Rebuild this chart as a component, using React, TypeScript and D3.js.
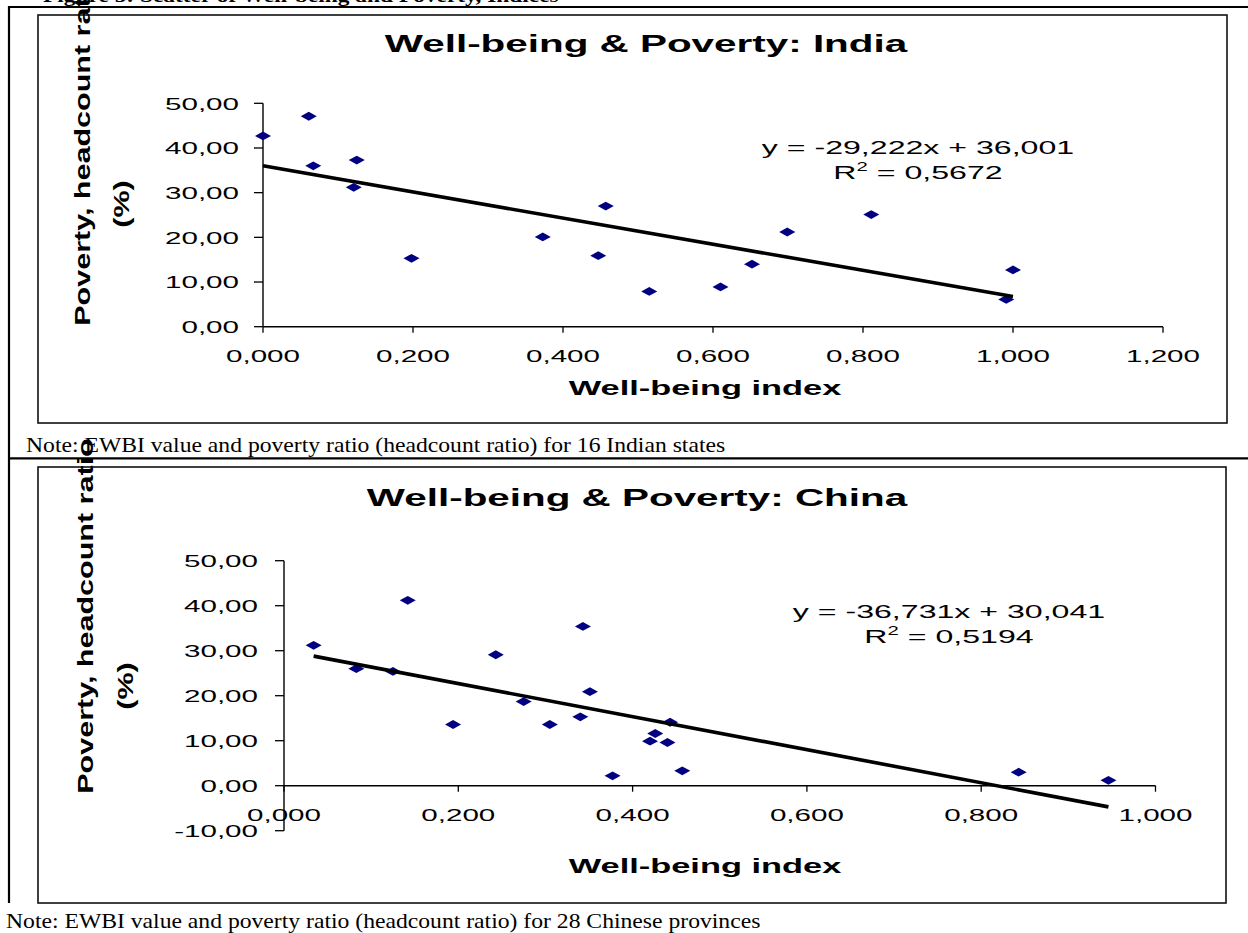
import React from "react";
import * as d3 from "d3";

// Well-being index (EWBI) and poverty headcount ratio (%) per Indian state
const indiaWellBeing = [0, 0.061, 0.067, 0.125, 0.121, 0.198, 0.373, 0.457, 0.447, 0.515, 0.61, 0.652, 0.699, 0.811, 1.0, 0.991];
const indiaPoverty = [42.7, 47.1, 36.0, 37.3, 31.2, 15.3, 20.1, 27.0, 15.9, 7.9, 8.9, 14.0, 21.2, 25.1, 12.7, 6.1];

// Well-being index (EWBI) and poverty headcount ratio (%) per Chinese province
const chinaWellBeing = [0.034, 0.083, 0.125, 0.142, 0.194, 0.243, 0.275, 0.305, 0.343, 0.351, 0.34, 0.377, 0.42, 0.426, 0.44, 0.443, 0.457, 0.843, 0.946];
const chinaPoverty = [31.2, 26.0, 25.4, 41.2, 13.6, 29.1, 18.7, 13.6, 35.4, 20.9, 15.3, 2.2, 9.9, 11.6, 9.6, 14.1, 3.3, 3.0, 1.2];

// Linear trendlines (Excel style)
const indiaFit = { slope: -29.222, intercept: 36.001, r2: 0.5672 };
const chinaFit = { slope: -36.731, intercept: 30.041, r2: 0.5194 };

// Axis ticks
const indiaXTicks = [0, 0.2, 0.4, 0.6, 0.8, 1.0, 1.2];
const indiaYTicks = [0, 10, 20, 30, 40, 50];
const chinaXTicks = [0, 0.2, 0.4, 0.6, 0.8, 1.0];
const chinaYTicks = [-10, 0, 10, 20, 30, 40, 50];

const indiaTitle = "Well-being & Poverty: India";
const chinaTitle = "Well-being & Poverty: China";
const xAxisTitle = "Well-being index";
const yAxisTitleLine1 = "Poverty, headcount ratio";
const yAxisTitleLine2 = "(%)";
const indiaNote = "Note: EWBI value and poverty ratio (headcount ratio) for 16 Indian states";
const chinaNote = "Note: EWBI value and poverty ratio (headcount ratio) for 28 Chinese provinces";
const figureCaption = "Figure 5: Scatter of Well-being and Poverty, Indices";

// Decimal comma formatting
const locale = d3.formatLocale({ decimal: ",", thousands: ".", grouping: [3], currency: ["", ""], minus: "-" });
const fmtY = locale.format(".2f");
const fmtX = locale.format(".3f");
const fmt3 = locale.format(".3f");
const fmt4 = locale.format(".4f");

const SANS = "'Liberation Sans', Arial, Helvetica, sans-serif";
const SERIF = "'Liberation Serif', 'Times New Roman', serif";
const MARKER = "#000080";

// Horizontally widened text, as the chart glyphs are rendered wide
function WText({ x, y, sx = 1.72, size, weight = "normal", anchor = "start", family = SANS, children }: any) {
  return (
    <text
      transform={`translate(${x},${y}) scale(${sx},1)`}
      fontFamily={family}
      fontSize={size}
      fontWeight={weight}
      textAnchor={anchor}
      fill="#000"
    >
      {children}
    </text>
  );
}

// Rotated (vertical) text, centered at cy with baseline at x
function VText({ x, cy, sx = 1.42, size, weight = "bold", children }: any) {
  return (
    <text
      transform={`translate(${x},${cy}) rotate(-90) scale(${sx},1)`}
      fontFamily={SANS}
      fontSize={size}
      fontWeight={weight}
      textAnchor="middle"
      fill="#000"
    >
      {children}
    </text>
  );
}

function Scatter({ xs, ys, fit, title, xDomain, yDomain, xTicks, yTicks, L }: any) {
  const x = d3.scaleLinear().domain(xDomain).range([L.left, L.right]);
  const y = d3.scaleLinear().domain(yDomain).range([L.bottom, L.top]);
  const axisY = y(0);
  const xMin = d3.min(xs) as number;
  const xMax = d3.max(xs) as number;
  const trend = d3.line()([
    [x(xMin), y(fit.intercept + fit.slope * xMin)],
    [x(xMax), y(fit.intercept + fit.slope * xMax)],
  ]) as string;
  const diamond = (cx: number, cy: number) =>
    `M${cx - 8},${cy}L${cx},${cy - 4.4}L${cx + 8},${cy}L${cx},${cy + 4.4}Z`;

  return (
    <g>
      <rect x={L.box.x} y={L.box.y} width={L.box.w} height={L.box.h} fill="none" stroke="#111" strokeWidth={1.6} />
      <WText x={L.titleX} y={L.titleY} size={23.5} weight="bold" anchor="middle">{title}</WText>

      {/* y axis */}
      <line x1={L.left} x2={L.left} y1={y(yDomain[0])} y2={y(yDomain[1])} stroke="#000" strokeWidth={1.4} />
      {yTicks.map((t: number) => (
        <g key={"y" + t}>
          <line x1={L.left - 9} x2={L.left} y1={y(t)} y2={y(t)} stroke="#000" strokeWidth={1.3} />
          <WText x={L.left - L.yLabelGap} y={y(t) + 6.2} size={17.2} anchor="end">{fmtY(t)}</WText>
        </g>
      ))}

      {/* x axis at zero */}
      <line x1={x(xDomain[0])} x2={x(xDomain[1])} y1={axisY} y2={axisY} stroke="#000" strokeWidth={1.4} />
      {xTicks.map((t: number) => (
        <g key={"x" + t}>
          <line x1={x(t)} x2={x(t)} y1={axisY} y2={axisY + 6} stroke="#000" strokeWidth={1.3} />
          <WText x={x(t)} y={axisY + 35} size={17.2} anchor="middle">{fmtX(t)}</WText>
        </g>
      ))}

      {/* data */}
      {xs.map((v: number, i: number) => (
        <path key={"p" + i} d={diamond(x(v), y(ys[i]))} fill={MARKER} />
      ))}
      <path d={trend} fill="none" stroke="#000" strokeWidth={3.6} />

      {/* trendline equation */}
      <WText x={L.eqX} y={L.eqY} size={19} sx={1.69} anchor="middle">
        {`y = ${fmt3(fit.slope)}x + ${fmt3(fit.intercept)}`}
      </WText>
      <WText x={L.eqX} y={L.eqY + 25} size={19} sx={1.69} anchor="middle">
        R<tspan fontSize={12} dy={-8}>2</tspan><tspan dy={8}>{` = ${fmt4(fit.r2)}`}</tspan>
      </WText>

      <WText x={705} y={L.xTitleY} size={20} weight="bold" anchor="middle">{xAxisTitle}</WText>
      <VText x={L.yT1X} cy={L.yT1C} size={21.5}>{yAxisTitleLine1}</VText>
      <VText x={L.yT2X} cy={L.yT2C} size={21.5}>{yAxisTitleLine2}</VText>
    </g>
  );
}

const indiaLayout = {
  box: { x: 38, y: 15, w: 1189, h: 408 },
  left: 263, right: 1163, top: 103.3, bottom: 326.7,
  yLabelGap: 24,
  titleX: 646, titleY: 52,
  eqX: 918, eqY: 154,
  xTitleY: 395,
  yT1X: 89.5, yT1C: 148,
  yT2X: 128.5, yT2C: 204,
};

const chinaLayout = {
  box: { x: 38, y: 467, w: 1188, h: 436 },
  left: 284, right: 1155.5, top: 560.7, bottom: 830.7,
  yLabelGap: 26,
  titleX: 637, titleY: 506,
  eqX: 949, eqY: 618,
  xTitleY: 873,
  yT1X: 93, yT1C: 616,
  yT2X: 132.5, yT2C: 686,
};

export default function App() {
  return (
    <svg
      width={1248}
      height={933}
      viewBox="0 0 1248 933"
      style={{ position: "absolute", left: 0, top: 0, background: "#fff" }}
    >
      <rect x={0} y={0} width={1248} height={933} fill="#fff" />
      <WText x={43} y={2} size={18} sx={1.3} weight="bold" family={SERIF}>{figureCaption}</WText>

      {/* page table rules */}
      <line x1={8} x2={1248} y1={7} y2={7} stroke="#000" strokeWidth={2.2} />
      <line x1={9} x2={9} y1={6} y2={903} stroke="#000" strokeWidth={2.2} />
      <line x1={9} x2={1248} y1={458.3} y2={458.3} stroke="#000" strokeWidth={2.2} />

      <WText x={26} y={451.7} size={21.5} sx={1.1} family={SERIF}>{indiaNote}</WText>
      <WText x={6} y={927.5} size={21.5} sx={1.1} family={SERIF}>{chinaNote}</WText>

      <Scatter
        xs={indiaWellBeing}
        ys={indiaPoverty}
        fit={indiaFit}
        title={indiaTitle}
        xDomain={[0, 1.2]}
        yDomain={[0, 50]}
        xTicks={indiaXTicks}
        yTicks={indiaYTicks}
        L={indiaLayout}
      />
      <Scatter
        xs={chinaWellBeing}
        ys={chinaPoverty}
        fit={chinaFit}
        title={chinaTitle}
        xDomain={[0, 1.0]}
        yDomain={[-10, 50]}
        xTicks={chinaXTicks}
        yTicks={chinaYTicks}
        L={chinaLayout}
      />
    </svg>
  );
}
